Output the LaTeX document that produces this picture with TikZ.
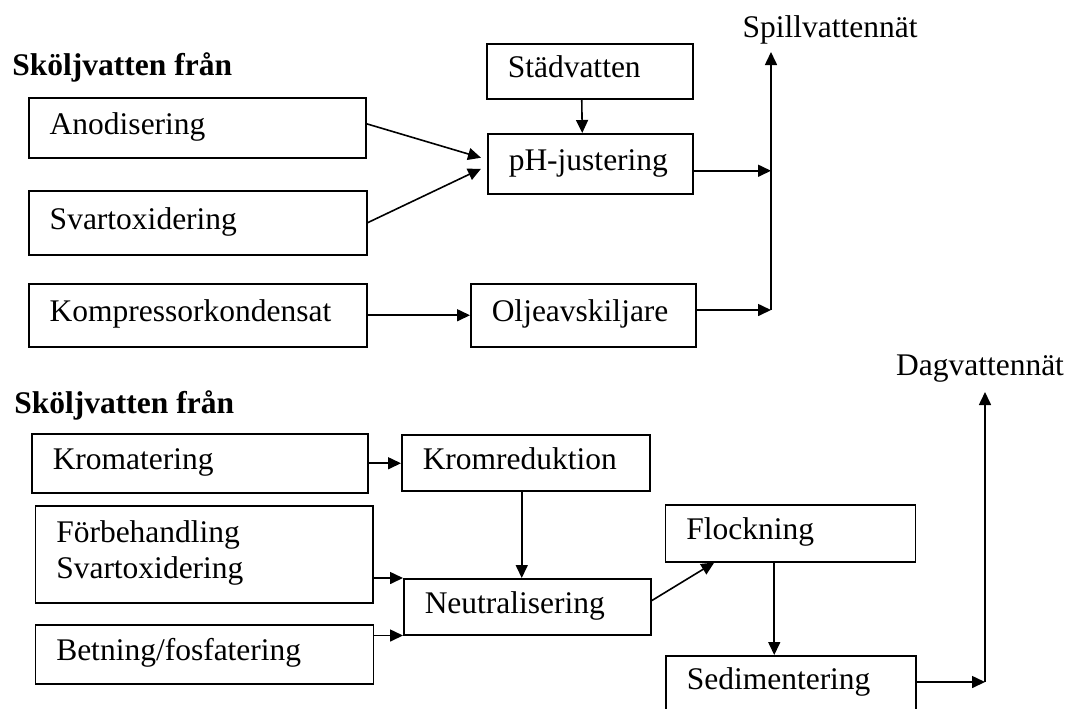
\documentclass[tikz,border=0pt]{standalone}
\usepackage{fontspec}
\setmainfont{Liberation Serif}
\usetikzlibrary{arrows.meta}

\begin{document}
\begin{tikzpicture}[x=0.5pt,y=-0.5pt,>={Triangle[length=6.5pt,width=6pt]},
	font=\fontsize{15.75pt}{18pt}\selectfont]

	\tikzstyle{box}     = [rectangle, draw=black, line width=0.75pt, anchor=north west, inner xsep=10.5pt, inner ysep=0pt, align=left, text height=0.66em, text depth=0pt]
	\tikzstyle{tallbox} = [rectangle, draw=black, line width=0.75pt, anchor=north west, inner xsep=10.5pt, inner ysep=0pt, align=left, text height=0.66em, text depth=18pt]
	\tikzstyle{flow}    = [->, line width=0.8pt]
	\tikzstyle{title}   = [anchor=base west, inner sep=0pt, font=\fontsize{15.75pt}{18pt}\selectfont\bfseries]
	\tikzstyle{sink}    = [anchor=base, inner sep=0pt]

	\useasboundingbox (0,0) rectangle (1071,708);

	% spillvatten
	\node [title] (topsrc) at (12,75) {Sköljvatten från};
	\node [box, text width=147.5pt, minimum height=30pt]   (anod)  at (28,97)  {Anodisering};
	\node [box, text width=148pt,   minimum height=32pt]   (svart) at (28,190) {Svartoxidering};
	\node [box, text width=148pt,   minimum height=31.5pt] (komp)  at (28,283) {Kompressorkondensat};
	\node [box, text width=82pt,    minimum height=27.5pt] (stad)  at (486,43) {Städvatten};
	\node [box, text width=81.5pt,  minimum height=30pt]   (ph)    at (487,133) {pH-justering};
	\node [box, text width=91.5pt,  minimum height=31.5pt] (olje)  at (470,283) {Oljeavskiljare};

	\coordinate (spillfoot) at (771,310);
	\coordinate (spilltop)  at (771,52);
	\node [sink] (spill) at (830,37) {Spillvattennät};

	\draw [flow] ([yshift=2pt]anod.east) -- ([xshift=-3pt,yshift=3pt]ph.west);
	\draw [flow] (svart.east) -- ([xshift=-3pt,yshift=-2.5pt]ph.west);
	\draw [flow] ([xshift=-4pt]stad.south) -- ([xshift=-4pt]ph.north);
	\draw [flow] (komp.east) -- (komp.east -| olje.west);
	\draw [flow] ([yshift=-3.5pt]ph.east) -- ([yshift=-3.5pt]ph.east -| spillfoot);
	\draw [flow] (olje.east |- spillfoot) -- (spillfoot);
	\draw [flow] (spillfoot) -- (spilltop);

	% dagvatten
	\node [title] (botsrc) at (14,413) {Sköljvatten från};
	\node [box, text width=147pt,     minimum height=29.5pt] (krom)  at (31,433)   {Kromatering};
	\node [tallbox, text width=147.75pt, minimum height=48.5pt] (forb) at (34.5,505) {Förbehandling\\Svartoxidering};
	\node [box, text width=148pt,     minimum height=29.5pt] (betn)  at (34.5,624) {Betning/fosfatering};
	\node [box, text width=103pt,     minimum height=28pt]   (kred)  at (401,434)  {Kromreduktion};
	\node [box, text width=102.5pt,   minimum height=28pt]   (neut)  at (403,578)  {Neutralisering};
	\node [box, text width=104pt,     minimum height=28.5pt] (flock) at (664.5,504) {Flockning};
	\node [box, text width=104pt,     minimum height=27.5pt] (sed)   at (665,655)  {Sedimentering};

	\coordinate (dagfoot) at (985,682);
	\coordinate (dagtop)  at (985,392);
	\node [sink] (dag) at (980,375) {Dagvattennät};

	\draw [flow] (krom.east) -- (krom.east -| kred.west);
	\draw [flow] ([xshift=-2pt]kred.south) -- ([xshift=-2pt]kred.south |- neut.north);
	\draw [flow] (forb.east |- neut.north west) -- (neut.north west);
	\draw [flow] (betn.east |- neut.south west) -- (neut.south west);
	\draw [flow] ([yshift=3pt]neut.east) -- ([xshift=-38pt]flock.south);
	\draw [flow] ([xshift=-8pt]flock.south) -- ([xshift=-8pt]flock.south |- sed.north);
	\draw [flow] (sed.east |- dagfoot) -- (dagfoot);
	\draw [flow] (dagfoot) -- (dagtop);

\end{tikzpicture}
\end{document}
